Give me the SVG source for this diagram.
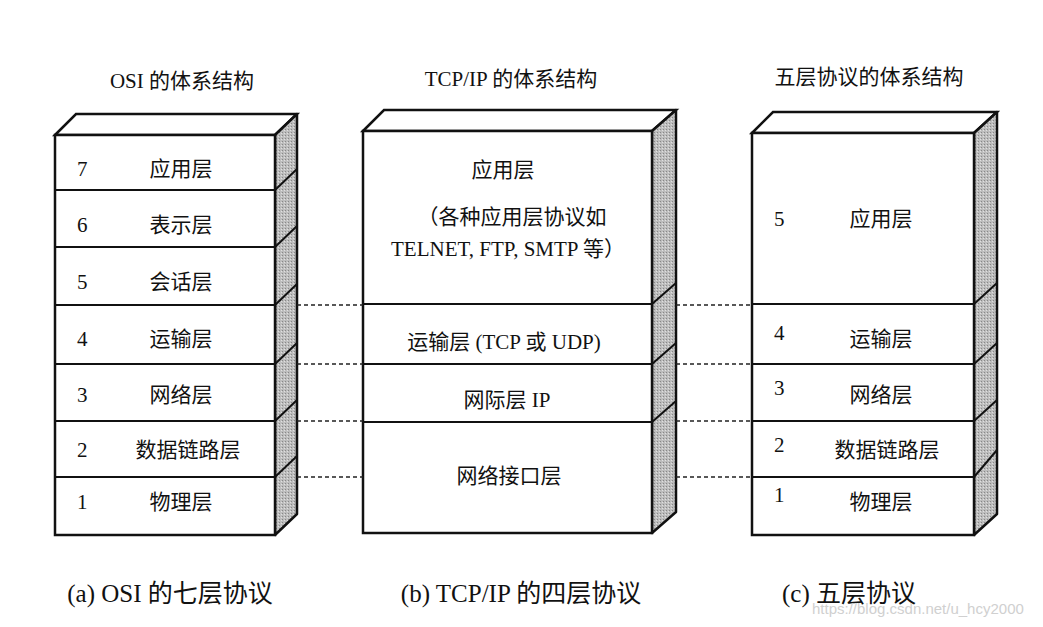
<svg xmlns="http://www.w3.org/2000/svg" width="1043" height="627" viewBox="0 0 1043 627">
<defs>
<pattern id="dots" width="3" height="3" patternUnits="userSpaceOnUse"><rect width="3" height="3" fill="#bdbdbd"/><rect width="1" height="1" fill="#888"/><rect x="2" y="1" width="1" height="1" fill="#e0e0e0"/></pattern>
</defs>
<style>
.f{fill:#fff;stroke:#111;stroke-width:2.5}
.s{fill:url(#dots);stroke:#111;stroke-width:2.5;stroke-linejoin:round}
.d{stroke:#111;stroke-width:2}
.dash{stroke:#222;stroke-width:1.5;stroke-dasharray:4,3}
text{font-family:"Liberation Serif","Noto Sans CJK SC",serif;font-size:21px;fill:#111}
.c{text-anchor:middle}
</style>
<rect width="1043" height="627" fill="#fff"/>
<g id="titles">
<text x="182" y="88" class="c">OSI 的体系结构</text>
<text x="511" y="86" class="c">TCP/IP 的体系结构</text>
<text x="869" y="84" class="c">五层协议的体系结构</text>
</g>
<g id="osi">
<polygon class="f" points="55,135 76,114 297,114 275,135"/>
<polygon class="s" points="275,135 297,114 297,514 275,535"/>
<rect class="f" x="55" y="135" width="220" height="400"/>
<g class="d"><line x1="55" y1="190" x2="275" y2="190"/><line x1="55" y1="247" x2="275" y2="247"/><line x1="55" y1="305" x2="275" y2="305"/><line x1="55" y1="364" x2="275" y2="364"/><line x1="55" y1="421" x2="275" y2="421"/><line x1="55" y1="477" x2="275" y2="477"/>
<line x1="275" y1="190" x2="297" y2="169"/><line x1="275" y1="247" x2="297" y2="226"/><line x1="275" y1="305" x2="297" y2="284"/><line x1="275" y1="364" x2="297" y2="343"/><line x1="275" y1="421" x2="297" y2="400"/><line x1="275" y1="477" x2="297" y2="456"/></g>
<text x="77" y="176">7</text><text x="181" y="176" class="c">应用层</text>
<text x="77" y="232">6</text><text x="181" y="232" class="c">表示层</text>
<text x="77" y="289">5</text><text x="181" y="289" class="c">会话层</text>
<text x="77" y="346">4</text><text x="181" y="346" class="c">运输层</text>
<text x="77" y="402">3</text><text x="181" y="402" class="c">网络层</text>
<text x="77" y="457">2</text><text x="188" y="457" class="c">数据链路层</text>
<text x="77" y="509">1</text><text x="181" y="509" class="c">物理层</text>
</g>
<g id="tcpip">
<polygon class="f" points="363,131 384,110 676,110 652,131"/>
<polygon class="s" points="652,131 676,110 676,512 652,533"/>
<rect class="f" x="363" y="131" width="289" height="402"/>
<g class="d"><line x1="363" y1="304" x2="652" y2="304"/><line x1="363" y1="364" x2="652" y2="364"/><line x1="363" y1="422" x2="652" y2="422"/>
<line x1="652" y1="304" x2="676" y2="283"/><line x1="652" y1="364" x2="676" y2="343"/><line x1="652" y1="422" x2="676" y2="401"/></g>
<text x="503" y="177" class="c">应用层</text>
<text x="512" y="224" class="c">（各种应用层协议如</text>
<text x="508" y="256" class="c">TELNET, FTP, SMTP 等）</text>
<text x="504" y="349" class="c">运输层 (TCP 或 UDP)</text>
<text x="507" y="407" class="c">网际层 IP</text>
<text x="509" y="483" class="c">网络接口层</text>
</g>
<g id="five">
<polygon class="f" points="752,133 773,112 997,112 974,133"/>
<polygon class="s" points="974,133 997,112 997,514 974,535"/>
<rect class="f" x="752" y="133" width="222" height="402"/>
<g class="d"><line x1="752" y1="304" x2="974" y2="304"/><line x1="752" y1="364" x2="974" y2="364"/><line x1="752" y1="421" x2="974" y2="421"/><line x1="752" y1="477" x2="974" y2="477"/>
<line x1="974" y1="304" x2="997" y2="283"/><line x1="974" y1="364" x2="997" y2="343"/><line x1="974" y1="421" x2="997" y2="400"/><line x1="974" y1="477" x2="997" y2="450"/></g>
<text x="774" y="226">5</text><text x="881" y="226" class="c">应用层</text>
<text x="774" y="340">4</text><text x="881" y="346" class="c">运输层</text>
<text x="774" y="395">3</text><text x="881" y="402" class="c">网络层</text>
<text x="774" y="452">2</text><text x="887" y="457" class="c">数据链路层</text>
<text x="774" y="502">1</text><text x="881" y="509" class="c">物理层</text>
</g>
<g id="connectors">
<line class="dash" x1="297" y1="305" x2="363" y2="305"/><line class="dash" x1="297" y1="364" x2="363" y2="364"/><line class="dash" x1="297" y1="421" x2="363" y2="421"/><line class="dash" x1="297" y1="477" x2="363" y2="477"/>
<line class="dash" x1="676" y1="305" x2="752" y2="305"/><line class="dash" x1="676" y1="364" x2="752" y2="364"/><line class="dash" x1="676" y1="421" x2="752" y2="421"/><line class="dash" x1="676" y1="477" x2="752" y2="477"/>
</g>
<g id="captions">
<text x="170" y="602" class="c" style="font-size:25px">(a) OSI 的七层协议</text>
<text x="521" y="602" class="c" style="font-size:25px">(b) TCP/IP 的四层协议</text>
<text x="782" y="602" style="font-size:25px">(c) 五层协议</text>
<text x="812" y="614" style="font-family:'Liberation Sans',sans-serif;font-size:15px;fill:#d0d0d0">https://blog.csdn.net/u_hcy2000</text>
</g>
</svg>
